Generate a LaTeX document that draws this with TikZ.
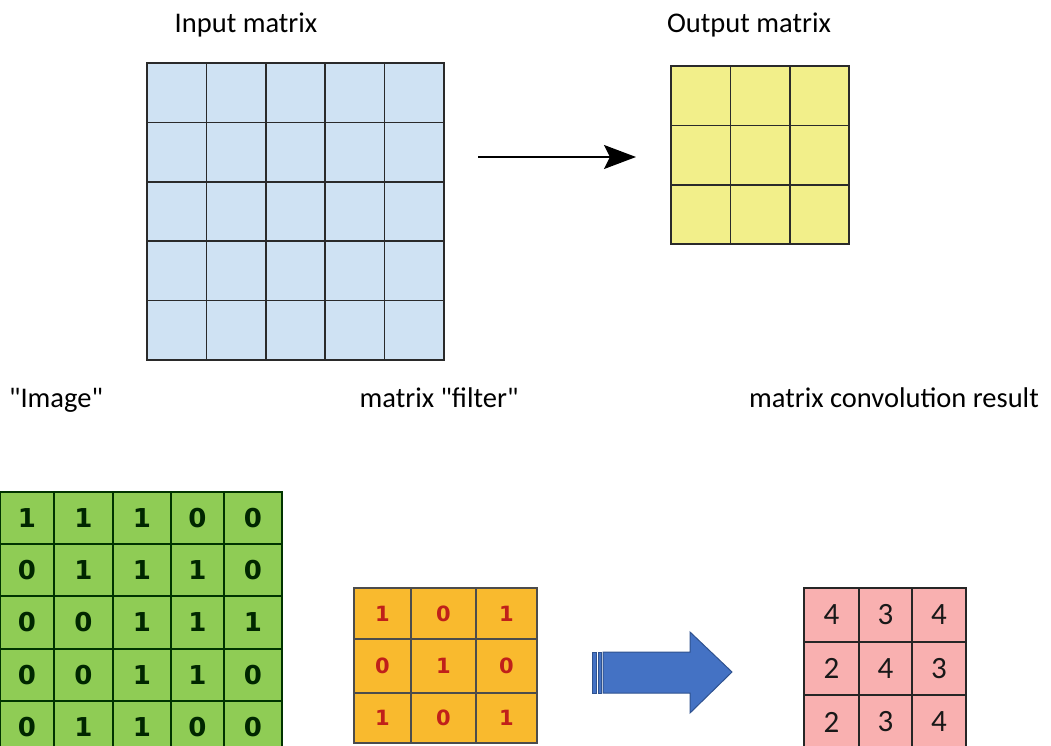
\documentclass[tikz,border=0pt]{standalone}
\usepackage{fontspec}
\setmainfont{Carlito}
\newfontfamily\calfont{Carlito}
\newfontfamily\boldnum{DejaVu Sans}
\usetikzlibrary{arrows.meta}
\definecolor{inblue}{HTML}{CFE2F3}
\definecolor{outyel}{HTML}{F2EF8A}
\definecolor{imggreen}{HTML}{8FCC55}
\definecolor{filtorange}{HTML}{F9BA2E}
\definecolor{filtred}{HTML}{C0201A}
\definecolor{respink}{HTML}{F9B0B0}
\definecolor{arrowblue}{HTML}{4472C4}
\definecolor{arrowedge}{HTML}{2F528F}
\definecolor{gridline}{HTML}{2A2A2A}
\tikzset{
  lbl/.style={font=\calfont\fontsize{28.5}{32}\selectfont, anchor=base, inner sep=0pt},
  incell/.style={fill=inblue, draw=gridline, line width=1.6pt},
  outcell/.style={fill=outyel, draw=gridline, line width=1.6pt},
  gcell/.style={fill=imggreen, draw=black!80!green, line width=1.3pt},
  ocell/.style={fill=filtorange, draw=black!70, line width=1.3pt},
  pcell/.style={fill=respink, draw=black!85, line width=1.4pt},
  gnum/.style={font=\boldnum\bfseries\fontsize{26}{28}\selectfont, text=black!85!green},
  onum/.style={font=\boldnum\bfseries\fontsize{21}{23}\selectfont, text=filtred},
  pnum/.style={font=\calfont\fontsize{31}{34}\selectfont, text=black!90},
  bigarrow/.style={fill=arrowblue, draw=arrowedge, line width=1pt},
}
\begin{document}
\begin{tikzpicture}[x=1pt,y=-1pt]
\useasboundingbox (0,0) rectangle (1051,746);
% labels
\node[lbl] (linput) at (246,33) {Input matrix};
\node[lbl] (loutput) at (749,33) {Output matrix};
\node[lbl] (limage) at (56,407) {"Image"};
\node[lbl] (lfilter) at (439,407) {matrix "filter"};
\node[lbl] (lresult) at (894,407) {matrix convolution result};
% input matrix 5x5
\foreach \i in {0,...,4}{
  \foreach \j in {0,...,4}{
    \draw[incell] ({147+59.4*\i},{63+59.4*\j}) rectangle ++(59.4,59.4);
  }
}
% output matrix 3x3
\foreach \i in {0,...,2}{
  \foreach \j in {0,...,2}{
    \draw[outcell] ({671+59.4*\i},{66+59.4*\j}) rectangle ++(59.4,59.4);
  }
}
% thin arrow
\coordinate (a1) at (478,157);
\coordinate (a2) at (636,157);
\draw[line width=1.8pt, -{Stealth[length=32pt,width=24pt,inset=6pt]}] (a1) -- (a2);
% image matrix (green)
\def\gx{{0,54,113,171,224,282}}
\def\gy{{492,544,596,649,701,753}}
\foreach \r/\row in {0/{1,1,1,0,0},1/{0,1,1,1,0},2/{0,0,1,1,1},3/{0,0,1,1,0},4/{0,1,1,0,0}}{
  \foreach \v [count=\c from 0] in \row {
    \pgfmathsetmacro\xa{\gx[\c]}\pgfmathsetmacro\xb{\gx[\c+1]}
    \pgfmathsetmacro\ya{\gy[\r]}\pgfmathsetmacro\yb{\gy[\r+1]}
    \draw[gcell] (\xa,\ya) rectangle (\xb,\yb);
    \node[gnum] (g\r\c) at ({(\xa+\xb)/2},{(\ya+\yb)/2}) {\v};
  }
}
% filter matrix (orange)
\def\ox{{354,411,476,537}}
\def\oy{{588,639,693,743}}
\foreach \r/\row in {0/{1,0,1},1/{0,1,0},2/{1,0,1}}{
  \foreach \v [count=\c from 0] in \row {
    \pgfmathsetmacro\xa{\ox[\c]}\pgfmathsetmacro\xb{\ox[\c+1]}
    \pgfmathsetmacro\ya{\oy[\r]}\pgfmathsetmacro\yb{\oy[\r+1]}
    \draw[ocell] (\xa,\ya) rectangle (\xb,\yb);
    \node[onum] (f\r\c) at ({(\xa+\xb)/2},{(\ya+\yb)/2}) {\v};
  }
}
% result matrix (pink)
\def\px{{804,859,912,966}}
\def\py{{588,642,695,749}}
\foreach \r/\row in {0/{4,3,4},1/{2,4,3},2/{2,3,4}}{
  \foreach \v [count=\c from 0] in \row {
    \pgfmathsetmacro\xa{\px[\c]}\pgfmathsetmacro\xb{\px[\c+1]}
    \pgfmathsetmacro\ya{\py[\r]}\pgfmathsetmacro\yb{\py[\r+1]}
    \draw[pcell] (\xa,\ya) rectangle (\xb,\yb);
    \node[pnum] (p\r\c) at ({(\xa+\xb)/2},{(\ya+\yb)/2}) {\v};
  }
}
% block arrow
\draw[bigarrow] (592,652) rectangle (596,693);
\draw[bigarrow] (598,652) rectangle (601,693);
\draw[bigarrow] (603,652) -- (690,652) -- (690,632) -- (732,672) -- (690,713) -- (690,693) -- (603,693) -- cycle;
\end{tikzpicture}
\end{document}
